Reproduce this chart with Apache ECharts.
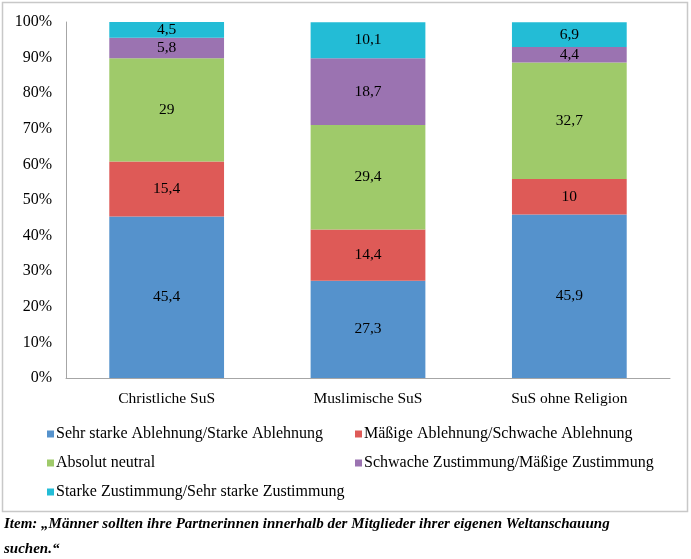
<!DOCTYPE html>
<html><head><meta charset="utf-8">
<script src="https://cdn.jsdelivr.net/npm/echarts@6/dist/echarts.min.js"></script>
<style>html,body{margin:0;padding:0;background:#fff}#c{width:691px;height:559px}</style>
</head><body><div id="c"></div>
<script>
const categories = ['Christliche SuS', 'Muslimische SuS', 'SuS ohne Religion'];
const seriesNames = [
  'Sehr starke Ablehnung/Starke Ablehnung',
  'Mäßige Ablehnung/Schwache Ablehnung',
  'Absolut neutral',
  'Schwache Zustimmung/Mäßige Zustimmung',
  'Starke Zustimmung/Sehr starke Zustimmung'
];
const sehrStarkeAblehnung = [45.4, 27.3, 45.9];
const maessigeAblehnung = [15.4, 14.4, 10];
const absolutNeutral = [29, 29.4, 32.7];
const schwacheZustimmung = [5.8, 18.7, 4.4];
const starkeZustimmung = [4.5, 10.1, 6.9];
const yTicks = [0, 10, 20, 30, 40, 50, 60, 70, 80, 90, 100];
const caption1 = 'Item: \u201EMänner sollten ihre Partnerinnen innerhalb der Mitglieder ihrer eigenen Weltanschauung';
const caption2 = 'suchen.\u201C';

const values = [sehrStarkeAblehnung, maessigeAblehnung, absolutNeutral, schwacheZustimmung, starkeZustimmung];
const colors = ['#5592CC', '#DE5A57', '#9FCA6A', '#9B73B1', '#23BCD6'];
const font = 'Liberation Serif';

const chart = echarts.init(document.getElementById('c'));
chart.setOption({
  animation: false,
  textStyle: { fontFamily: font },
  graphic: [
    { type: 'rect', shape: { x: 2.5, y: 2.5, width: 685, height: 509 }, style: { fill: 'none', stroke: '#C8C8C8', lineWidth: 1.5 } },
    { type: 'text', left: 4, top: 517, style: { text: caption1, font: 'italic bold 15px "Liberation Serif"', fill: '#000' } },
    { type: 'text', left: 4, top: 542, style: { text: caption2, font: 'italic bold 15px "Liberation Serif"', fill: '#000' } }
  ],
  grid: { left: 66, right: 21, top: 22, bottom: 181 },
  legend: [
    { left: 42, top: 421, orient: 'vertical', itemGap: 13, itemWidth: 7, itemHeight: 7, icon: 'rect',
      data: [seriesNames[0], seriesNames[2], seriesNames[4]],
      textStyle: { fontFamily: font, fontSize: 16, color: '#000', padding: [0, 0, 0, -3] } },
    { left: 350, top: 421, orient: 'vertical', itemGap: 13, itemWidth: 7, itemHeight: 7, icon: 'rect',
      data: [seriesNames[1], seriesNames[3]],
      textStyle: { fontFamily: font, fontSize: 16, color: '#000', padding: [0, 0, 0, -3] } }
  ],
  xAxis: {
    type: 'category', data: categories,
    axisLine: { lineStyle: { color: '#A6A6A6' } },
    axisTick: { show: false },
    axisLabel: { color: '#000', fontSize: 15.5, fontFamily: font, margin: 13 }
  },
  yAxis: {
    type: 'value', min: 0, max: 100, interval: 10,
    axisLine: { show: true, lineStyle: { color: '#A6A6A6' } },
    axisTick: { show: false },
    splitLine: { show: false },
    axisLabel: { color: '#000', fontSize: 16, fontFamily: font, margin: 14,
      formatter: v => yTicks.includes(v) ? v + '%' : '' }
  },
  series: values.map((arr, i) => ({
    name: seriesNames[i], type: 'bar', stack: 'all', barWidth: '57%',
    itemStyle: { color: colors[i] },
    label: { show: true, position: 'inside', color: '#000', fontSize: 15.5, fontFamily: font,
      formatter: p => String(p.value).replace('.', ',') },
    data: arr
  }))
});
</script></body></html>
